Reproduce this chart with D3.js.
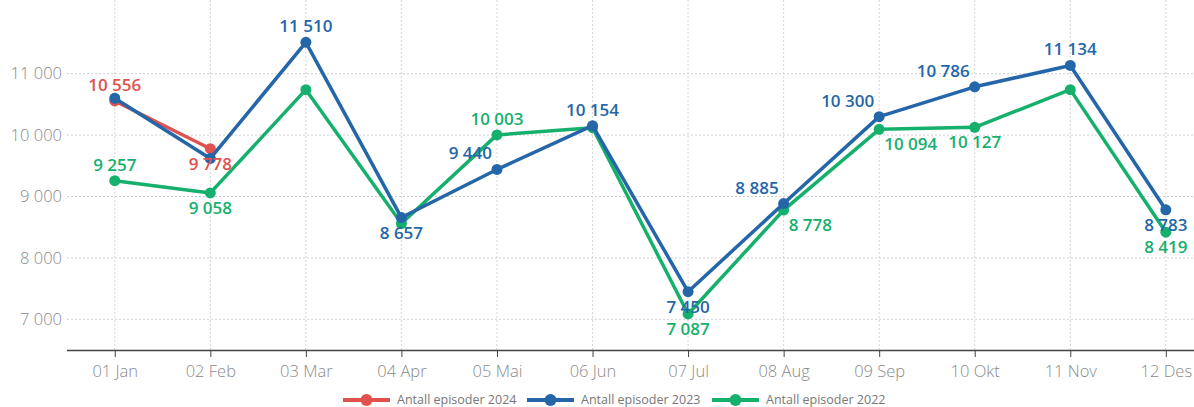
<!DOCTYPE html>
<html><head><meta charset="utf-8">
<script src="https://cdn.jsdelivr.net/npm/d3@7"></script>
<style>
html,body{margin:0;padding:0;background:#fff;}
svg{display:block;font-family:"Open Sans",sans-serif;}
</style></head>
<body>
<svg id="c" width="1194" height="407"></svg>
<script>
const months = ["01 Jan","02 Feb","03 Mar","04 Apr","05 Mai","06 Jun","07 Jul","08 Aug","09 Sep","10 Okt","11 Nov","12 Des"];
const yTicks = [7000, 8000, 9000, 10000, 11000];
const series2024 = [10556, 9778, null, null, null, null, null, null, null, null, null, null];
const series2023 = [10600, 9620, 11510, 8657, 9440, 10154, 7450, 8885, 10300, 10786, 11134, 8783];
const series2022 = [9257, 9058, 10740, 8560, 10003, 10120, 7087, 8778, 10094, 10127, 10740, 8419];
const seriesNames = ["Antall episoder 2024", "Antall episoder 2023", "Antall episoder 2022"];
// label placement per point: t = above, b = below, tl = above-left, br = below-right, null = hidden
const place2024 = ["t","b",null,null,null,null,null,null,null,null,null,null];
const place2023 = [null,null,"t","b","tl","t","b","tl","tl","tl","t","b"];
const place2022 = ["t","b",null,null,"t",null,"b","br","br","b",null,"b"];
const colors = ["#e0524f", "#2466a8", "#16b06d"];

(function(){
const svg = d3.select("#c");
const W = 1194;
const mLeft = 67, mBottom = 350, mTop = 0;
const x = d3.scalePoint().domain(months).range([mLeft, mLeft + 12*95.55]).padding(0.5);
const y = d3.scaleLinear().domain([6500, 12200]).range([mBottom, mTop]);
const loc = d3.formatLocale({decimal: ",", thousands: " ", grouping: [3], currency: ["", ""]});
const fmt = loc.format(",d");

svg.append("g").selectAll("line").data(yTicks).join("line")
  .attr("x1", mLeft).attr("x2", W).attr("y1", d => y(d)).attr("y2", d => y(d))
  .attr("stroke", "#cfcfcf").attr("stroke-width", 1).attr("stroke-dasharray", "2,2");
svg.append("g").selectAll("line").data(months).join("line")
  .attr("x1", d => x(d)).attr("x2", d => x(d)).attr("y1", 0).attr("y2", mBottom)
  .attr("stroke", "#d6d6d6").attr("stroke-width", 1).attr("stroke-dasharray", "2,2");

const yAxis = d3.axisLeft(y).tickValues(yTicks).tickFormat(fmt).tickSize(0).tickPadding(5);
const gy = svg.append("g").attr("transform", `translate(${mLeft},0)`).call(yAxis);
gy.select(".domain").remove();
gy.selectAll("text").attr("font-size", 16.5).attr("fill", "#8a8a8a").attr("font-family", "Open Sans").attr("font-weight", 300);

const xAxis = d3.axisBottom(x).tickSize(7).tickPadding(8).tickSizeOuter(0);
const gx = svg.append("g").attr("transform", `translate(0,${mBottom})`).call(xAxis);
gx.select(".domain").attr("stroke", "#444").attr("stroke-width", 1.3).attr("d", `M${mLeft},0.5H${W}`);
gx.selectAll(".tick line").attr("stroke", "#444");
gx.selectAll("text").attr("font-size", 16.5).attr("fill", "#8a8a8a").attr("font-family", "Open Sans").attr("font-weight", 300);

const all = [
  {vals: series2024, place: place2024, color: colors[0]},
  {vals: series2023, place: place2023, color: colors[1]},
  {vals: series2022, place: place2022, color: colors[2]}
];
const drawOrder = [2, 0, 1];
const line = d3.line().defined(d => d.v != null).x(d => x(d.m)).y(d => y(d.v));

drawOrder.forEach(i => {
  const s = all[i];
  const pts = s.vals.map((v, k) => ({m: months[k], v: v, p: s.place[k]}));
  const g = svg.append("g");
  g.append("path").datum(pts).attr("d", line).attr("fill", "none")
    .attr("stroke", s.color).attr("stroke-width", 3.5).attr("stroke-linejoin", "round");
  g.selectAll("circle").data(pts.filter(d => d.v != null)).join("circle")
    .attr("cx", d => x(d.m)).attr("cy", d => y(d.v)).attr("r", 5.5).attr("fill", s.color);
});
drawOrder.forEach(i => {
  const s = all[i];
  const pts = s.vals.map((v, k) => ({m: months[k], v: v, p: s.place[k]})).filter(d => d.v != null && d.p);
  svg.append("g").selectAll("text").data(pts).join("text")
    .attr("x", d => x(d.m) + (d.p === "tl" ? -5 : d.p === "br" ? 5 : 0))
    .attr("y", d => y(d.v) + (d.p === "t" || d.p === "tl" ? -10 : 21))
    .attr("text-anchor", d => d.p === "tl" ? "end" : d.p === "br" ? "start" : "middle")
    .attr("font-size", 17).attr("font-weight", 600).attr("fill", s.color)
    .text(d => fmt(d.v));
});

const legX = [343, 527, 712];
const lg = svg.append("g");
seriesNames.forEach((n, i) => {
  const g = lg.append("g").attr("transform", `translate(${legX[i]},400)`);
  g.append("line").attr("x1", 0).attr("x2", 47).attr("y1", 0).attr("y2", 0)
    .attr("stroke", colors[i]).attr("stroke-width", 4);
  g.append("circle").attr("cx", 23.5).attr("cy", 0).attr("r", 6).attr("fill", colors[i]);
  g.append("text").attr("x", 54).attr("y", 0).attr("dy", "0.35em")
    .attr("font-size", 12.5).attr("fill", "#777").text(n);
});
})();
</script>
</body></html>
